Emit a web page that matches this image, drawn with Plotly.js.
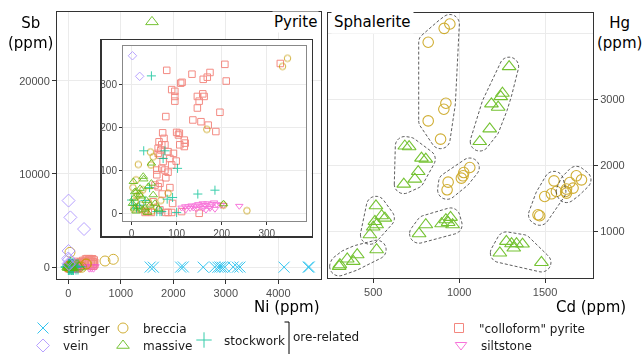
<!DOCTYPE html>
<html><head><meta charset="utf-8">
<script src="https://cdn.plot.ly/plotly-3.0.1.min.js"></script>
<style>html,body{margin:0;padding:0;background:#fff}#chart{width:644px;height:354px}</style>
</head><body><div id="chart"></div>
<script>
// ---------------- Pyrite: Ni (ppm) vs Sb (ppm) ----------------
const stringerNi = [1560, 1620, 2140, 2190, 2570, 2790, 2850, 2890, 2930, 2980, 3140, 3220, 3270, 4110, 4570, 4590];
const stringerSb = [30, 10, 20, 40, 15, 25, 5, 35, 10, 20, 30, 10, 25, 15, 20, 35];

const veinNi = [5, 40, 300, 5, 0, 10, 2, 18];
const veinSb = [7150, 5350, 4100, 1750, 950, 800, 368, 320];

const brecciaNi = [32, 699, 857, 346, 335, 167, 256, 15, 42, 48, 10, 43, 81, 204, 5, 20, 30, 12, 38, 55, 25, 8, 45, 65, 3, 18];
const brecciaSb = [1600, 675, 857, 362, 343, 196, 6, 114, 143, 132, 78, 113, 47, 19, 10, 20, 5, 40, 25, 15, 55, 28, 5, 30, 60, 45];

const massiveNi = [1594, 4, 27, 11, 19, 37, 44, 52, 2, 7, 15, 30, 41, 204, 44, 26, 7, 18, 48, 20, 33, 10, 25, 60, 5, 35];
const massiveSb = [26300, 74, 80, 51, 58, 62, 70, 23, 23, 12, 16, 12, 19, 22, 117, 86, 50, 43, 43, 40, 30, 5, 8, 10, 35, 2];

const stockworkNi = [27, 44, 102, 147, 185, 79, 91, 74, 70, 4, 56, 67, 11, 18, 63, 30, 100, 0, 40];
const stockworkSb = [146, 321, 105, 45, 54, 33, 37, 146, 128, 19, 4, 4, 12, 19, 4, 30, 2, 31, 60];

const colloformNi = [78, 134, 174, 159, 168, 207, 210, 109, 112, 89, 96, 96, 96, 146, 158, 161, 150, 146, 196, 76, 136, 154, 170, 187, 69, 100, 106,
  72, 61, 67, 74, 59, 65, 59, 63, 81, 93, 104, 117, 119, 117, 107, 99, 85, 70, 89, 67, 74, 56, 81, 76, 56, 63, 52, 59, 91, 76, 81, 89, 44, 37, 63, 111, 150, 48, 30, 20, 68, 85,
  350, 380, 410, 440, 470, 360, 400, 450, 480, 300, 250, 200, 420, 460, 330];
const colloformSb = [334, 325, 329, 313, 318, 348, 309, 304, 306, 289, 285, 273, 262, 273, 279, 273, 262, 246, 236, 226, 218, 214, 206, 191, 188, 189, 187,
  175, 167, 160, 160, 152, 148, 140, 136, 144, 140, 183, 171, 164, 156, 160, 122, 128, 121, 113, 105, 101, 101, 96, 83, 90, 70, 66, 62, 23, 2, 2, 2, 2, 4, 8, 4, 0, 27, 2, 10, 45, 60,
  750, 800, 700, 780, 650, 500, 550, 450, 400, 600, 450, 500, 300, 250, 350];

const siltstoneNi = [111, 119, 126, 133, 137, 143, 148, 152, 158, 163, 168, 173, 178, 183, 189, 198, 204, 239, 130, 144, 159, 174, 165, 185, 120, 400, 440, 480];
const siltstoneSb = [13, 16, 16, 18, 13, 18, 21, 16, 23, 19, 23, 16, 21, 25, 21, 19, 19, 17, 12, 10, 12, 12, 8, 10, 8, 15, 20, 10];

// ---------------- Sphalerite: Cd (ppm) vs Hg (ppm) ----------------
const sphBrecciaCd = [946, 913, 820, 923, 911, 820, 892, 1062, 1027, 1023, 1013, 936, 930, 1552, 1566, 1537, 1498, 1459, 1469, 1644, 1625, 1663, 1625, 1682, 1712, 1620];
const sphBrecciaHg = [4141, 4075, 3864, 2939, 2848, 2671, 2394, 1964, 1888, 1838, 1803, 1742, 1626, 1762, 1600, 1565, 1524, 1247, 1232, 1737, 1637, 1652, 1576, 1838, 1777, 1600];
const sphBrecciaGroup = [1, 1, 1, 1, 1, 1, 1, 4, 4, 4, 4, 4, 4, 9, 9, 9, 9, 9, 9, 10, 10, 10, 10, 10, 10, 10];

const sphMassiveCd = [1291, 1252, 1242, 1188, 1227, 1178, 1120, 684, 709, 781, 806, 762, 742, 678, 516, 549, 568, 510, 520, 500, 481, 806, 767, 898, 923, 950, 962, 936, 520, 407, 349, 384, 306, 302, 1275, 1305, 1334, 1369, 1318, 1237, 1479];
const sphMassiveHg = [3494, 3091, 3039, 2929, 2879, 2550, 2358, 2290, 2280, 2106, 2091, 1903, 1788, 1712, 1383, 1232, 1197, 1146, 1096, 1061, 944, 1096, 960, 1111, 1172, 1207, 1096, 1131, 717, 641, 576, 540, 490, 464, 843, 808, 808, 803, 742, 667, 524];
const sphMassiveGroup = [2, 2, 2, 2, 2, 2, 2, 3, 3, 3, 3, 3, 3, 3, 5, 5, 5, 5, 5, 5, 5, 6, 6, 6, 6, 6, 6, 6, 7, 7, 7, 7, 7, 7, 8, 8, 8, 8, 8, 8, 8];

// ---------------- tick labels ----------------
const niTicks = [0, 1000, 2000, 3000, 4000];
const sbTicks = [0, 10000, 20000];
const insetTicks = [0, 100, 200, 300];
const cdTicks = [500, 1000, 1500];
const hgTicks = [1000, 2000, 3000];

// ---------------- styles / layout ----------------
const W = 644, H = 354;
const fx = p => p / W, fy = p => (H - p) / H;
const C = {stringer:'#00B6EB', vein:'#A58AFF', breccia:'#C49A00', massive:'#53B400', stockwork:'#00C094', colloform:'#F06A60', siltstone:'#F552D0'};
const SYM = {stringer:'x-thin-open', vein:'diamond-open', breccia:'circle-open', massive:'triangle-up-open', stockwork:'cross-thin-open', colloform:'square-open', siltstone:'triangle-down-open'};
const MAIN_SIZE = {stringer:11, vein:10, breccia:10, massive:11, stockwork:11, colloform:9, siltstone:10};

// [key, legend label, x, y, legend id, legend key position (px)]
const pyrite = [
  ['colloform', '"colloform" pyrite', colloformNi, colloformSb, 'legend6', [463, 328]],
  ['siltstone', 'siltstone', siltstoneNi, siltstoneSb, 'legend7', [465, 345]],
  ['breccia', 'breccia', brecciaNi, brecciaSb, 'legend3', [127, 328]],
  ['stockwork', 'stockwork', stockworkNi, stockworkSb, 'legend5', [208, 340]],
  ['massive', 'massive', massiveNi, massiveSb, 'legend4', [127, 345.5]],
  ['vein', 'vein', veinNi, veinSb, 'legend2', [47, 345.5]],
  ['stringer', 'stringer', stringerNi, stringerSb, 'legend', [47, 328]]
];

const traces = [];
const legends = {};
pyrite.forEach(([key, name, xs, ys, lg, pos]) => {
  traces.push({type:'scatter', mode:'markers', x:xs, y:ys, xaxis:'x', yaxis:'y', name:name,
    legend:lg, showlegend:true, opacity:0.8, hoverinfo:'skip',
    marker:{symbol:SYM[key], size:MAIN_SIZE[key], color:C[key], line:{color:C[key], width:1}}});
  legends[lg] = {xref:'container', yref:'container', x:fx(pos[0] - 24), y:fy(pos[1]), xanchor:'left', yanchor:'middle',
    bgcolor:'rgba(0,0,0,0)', borderwidth:0, font:{family:'DejaVu Sans', size:12, color:'#1a1a1a'},
    itemclick:false, itemdoubleclick:false};
});
// white cover panel for the inset (framed)
traces.push({type:'scatter', mode:'markers', x:[], y:[], xaxis:'x3', yaxis:'y3', showlegend:false, hoverinfo:'skip'});
pyrite.forEach(([key, name, xs, ys]) => {
  traces.push({type:'scatter', mode:'markers', x:xs, y:ys, xaxis:'x4', yaxis:'y4', name:name,
    showlegend:false, opacity:0.78, hoverinfo:'skip',
    marker:{symbol:SYM[key], size:(key==='massive'?7.5:6.5), color:C[key], line:{color:C[key], width:1}}});
});
traces.push({type:'scatter', mode:'markers', x:sphMassiveCd, y:sphMassiveHg, xaxis:'x2', yaxis:'y2', showlegend:false, opacity:0.8, hoverinfo:'skip',
  marker:{symbol:'triangle-up-open', size:12, color:C.massive, line:{color:C.massive, width:1.1}}});
traces.push({type:'scatter', mode:'markers', x:sphBrecciaCd, y:sphBrecciaHg, xaxis:'x2', yaxis:'y2', showlegend:false, opacity:0.8, hoverinfo:'skip',
  marker:{symbol:'circle-open', size:10.5, color:C.breccia, line:{color:C.breccia, width:1.1}}});

// panel boxes (pixels)
const P1 = {l:57, r:321, t:12, b:279};
const P2 = {l:328, r:593, t:13, b:278};
const CV = {l:101.7, r:311.5, t:40, b:236};
const IN = {l:123, r:306, t:45.5, b:221};
const xr2 = [237, 1779], yr2 = [288, 4308];

// dashed hulls around sphalerite groups (expanded convex hull in pixel space)
function hull(points) {
  points.sort((a, b) => a[0] - b[0] || a[1] - b[1]);
  const cross = (o, a, b) => (a[0]-o[0])*(b[1]-o[1]) - (a[1]-o[1])*(b[0]-o[0]);
  const lower = [], upper = [];
  for (const p of points) { while (lower.length >= 2 && cross(lower[lower.length-2], lower[lower.length-1], p) <= 0) lower.pop(); lower.push(p); }
  for (let i = points.length - 1; i >= 0; i--) { const p = points[i]; while (upper.length >= 2 && cross(upper[upper.length-2], upper[upper.length-1], p) <= 0) upper.pop(); upper.push(p); }
  upper.pop(); lower.pop();
  return lower.concat(upper);
}
const sx = (P2.r - P2.l) / (xr2[1] - xr2[0]);
const sy = (P2.b - P2.t) / (yr2[1] - yr2[0]);
function groupShape(xs, ys, gs, g) {
  const R = 9.5, pts = [];
  xs.forEach((x, i) => {
    if (gs[i] !== g) return;
    for (let k = 0; k < 36; k++) {
      const a = 2 * Math.PI * k / 36;
      pts.push([x * sx + R * Math.cos(a), ys[i] * sy + R * Math.sin(a)]);
    }
  });
  const h = hull(pts);
  const path = 'M ' + h.map(p => (p[0] / sx).toFixed(2) + ',' + (p[1] / sy).toFixed(2)).join(' L ') + ' Z';
  return {type:'path', xref:'x2', yref:'y2', path:path, layer:'above', line:{color:'#333', width:0.8, dash:'3px,2px'}};
}
const shapes = [];
[...new Set(sphBrecciaGroup)].forEach(g => shapes.push(groupShape(sphBrecciaCd, sphBrecciaHg, sphBrecciaGroup, g)));
[...new Set(sphMassiveGroup)].forEach(g => shapes.push(groupShape(sphMassiveCd, sphMassiveHg, sphMassiveGroup, g)));
// "ore-related" bracket
shapes.push({type:'path', xref:'paper', yref:'paper', path:`M ${fx(284.5)},${fy(322)} L ${fx(289)},${fy(322)} L ${fx(289)},${fy(354)}`, line:{color:'#000', width:1}});

const tickFont = {family:'Liberation Sans, Arial, sans-serif', size:11, color:'#4d4d4d'};
const baseAx = {ticks:'outside', ticklen:4, tickcolor:'#333', tickwidth:1, tickfont:tickFont, showgrid:true, gridcolor:'#ebebeb', gridwidth:1,
  zeroline:false, showline:true, mirror:true, linecolor:'#333', linewidth:1, fixedrange:true, tickmode:'array', automargin:false};

const ann = (text, x, y, xa, size, extra) => Object.assign({text:text, x:fx(x), y:fy(y), xref:'paper', yref:'paper', xanchor:xa, yanchor:'middle', showarrow:false,
  font:{family:'DejaVu Sans', size:size, color:'#000'}}, extra || {});

const layout = {
  width:W, height:H, margin:{l:0, r:0, t:0, b:0, autoexpand:false}, paper_bgcolor:'#fff', plot_bgcolor:'#fff', showlegend:true,
  font:{family:'DejaVu Sans'},
  xaxis:Object.assign({}, baseAx, {domain:[fx(P1.l), fx(P1.r)], range:[-215, 4813], tickvals:niTicks, ticktext:niTicks.map(String), anchor:'y'}),
  yaxis:Object.assign({}, baseAx, {domain:[fy(P1.b), fy(P1.t)], range:[-1254, 27360], tickvals:sbTicks, ticktext:sbTicks.map(String), anchor:'x'}),
  xaxis2:Object.assign({}, baseAx, {domain:[fx(P2.l), fx(P2.r)], range:xr2, tickvals:cdTicks, ticktext:cdTicks.map(String), anchor:'y2'}),
  yaxis2:Object.assign({}, baseAx, {domain:[fy(P2.b), fy(P2.t)], range:yr2, tickvals:hgTicks, ticktext:hgTicks.map(String), side:'right', anchor:'x2',
    minor:{tickmode:'array', tickvals:[4000], showgrid:true, gridcolor:'#ebebeb', gridwidth:1, ticks:''}}),
  xaxis3:{domain:[fx(CV.l), fx(CV.r)], range:[0, 1], anchor:'y3', showgrid:false, zeroline:false, showticklabels:false, ticks:'', showline:true, mirror:true, linecolor:'#333', linewidth:1.5, fixedrange:true},
  yaxis3:{domain:[fy(CV.b), fy(CV.t)], range:[0, 1], anchor:'x3', showgrid:false, zeroline:false, showticklabels:false, ticks:'', showline:true, mirror:true, linecolor:'#333', linewidth:1.5, fixedrange:true},
  xaxis4:Object.assign({}, baseAx, {domain:[fx(IN.l), fx(IN.r)], range:[-19, 387], tickvals:insetTicks, ticktext:insetTicks.map(String), anchor:'y4', ticklen:3, linecolor:'#888',
    tickfont:Object.assign({}, tickFont, {size:10})}),
  yaxis4:Object.assign({}, baseAx, {domain:[fy(IN.b), fy(IN.t)], range:[-18, 392], tickvals:insetTicks, ticktext:insetTicks.map(String), anchor:'x4', ticklen:3, linecolor:'#888',
    tickfont:Object.assign({}, tickFont, {size:10})}),
  shapes:shapes,
  annotations:[
    ann('Sb<br>(ppm)', 30, 33, 'center', 15),
    ann('Pyrite', 319, 22, 'right', 15, {bgcolor:'#fff', borderpad:1}),
    ann('Sphalerite', 331, 22, 'left', 15, {bgcolor:'#fff', borderpad:2}),
    ann('Hg<br>(ppm)', 619, 33, 'center', 15, {bgcolor:'#fff'}),
    ann('Ni (ppm)', 322, 307, 'right', 15),
    ann('Cd (ppm)', 628, 307, 'right', 15),
    ann('ore-related', 291, 337, 'left', 12, {font:{family:'DejaVu Sans', size:12, color:'#1a1a1a'}})
  ]
};
Object.assign(layout, legends);

Plotly.newPlot('chart', traces, layout, {staticPlot:true, displayModeBar:false});
</script>
</body></html>
